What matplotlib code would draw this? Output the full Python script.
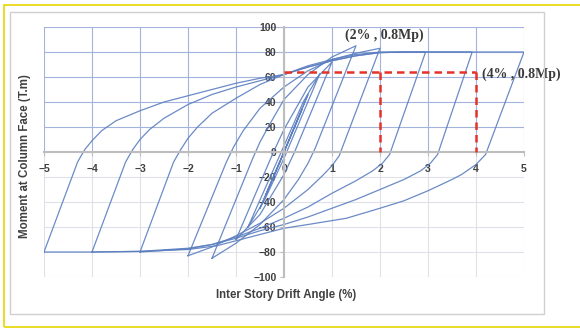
import matplotlib
matplotlib.use("Agg")
import matplotlib.pyplot as plt
from matplotlib.patches import Rectangle

plt.rcParams['font.family'] = ['Liberation Sans', 'DejaVu Sans']

# hysteresis loops, drift (%) vs moment (T.m)
loop5_x = [-5.0, -4.3, -4.15, -4.0, -3.8, -3.5, -3.0, -2.5, -2.0, -1.5, -1.0, -0.5, 0.0, 0.5, 1.0, 1.5, 2.0, 2.5, 5.0,
           4.2, 4.0, 3.7, 3.5, 3.0, 2.5, 2.0, 1.3, 0.5, 0.0, -0.7, -1.4, -2.0, -3.0, -4.0, -5.0]
loop5_m = [-80, -8, 2, 9, 17, 25, 33, 40, 45, 50, 55, 59, 62, 68, 73, 77, 79.5, 80, 80,
           -2, -10, -18, -22, -31, -39, -45, -53, -58, -61, -68, -75, -78, -79.5, -80, -80]

loop4_x = [-4.0, -3.3, -3.15, -3.0, -2.8, -2.5, -2.0, -1.5, -1.0, -0.5, 0.0, 0.5, 1.0, 1.5, 2.0, 2.5, 3.92,
           3.2, 3.05, 2.85, 2.5, 2.0, 1.5, 1.0, 0.5, 0.0, -0.5, -1.0, -1.5, -2.0, -3.0, -4.0]
loop4_m = [-80, -8, 2, 10, 18, 27, 38, 46, 52, 57, 62, 68, 73, 77, 79.5, 80, 80,
           -2, -9, -15, -22, -30, -38, -45, -52, -58, -63, -69, -74, -77, -79.5, -80]

loop3_x = [-3.0, -2.3, -2.15, -2.0, -1.8, -1.5, -1.0, -0.5, 0.0, 0.5, 1.0, 1.5, 2.0, 2.95,
           2.2, 2.05, 1.85, 1.5, 1.0, 0.5, 0.0, -0.5, -1.0, -1.5, -2.0, -3.0]
loop3_m = [-80, -8, 2, 11, 20, 31, 43, 54, 62, 69, 74, 78, 80, 80,
           -2, -9, -15, -23, -33, -44, -53, -61, -68, -74, -77.5, -80]

loop2_x = [-2.0, -1.2, -1.05, -0.85, -0.5, 0.0, 0.5, 1.0, 1.5, 2.0,
           1.15, 1.0, 0.8, 0.5, 0.0, -0.5, -1.0, -1.5, -2.0]
loop2_m = [-83, -8, 4, 17, 35, 52, 65, 74, 79, 83,
           -3, -11, -19, -30, -45, -57, -67, -76, -83]

loop15_x = [-1.5, -0.65, -0.5, -0.3, 0.0, 0.5, 1.0, 1.5,
            0.65, 0.5, 0.3, 0.0, -0.5, -1.0, -1.5]
loop15_m = [-85, -5, 8, 22, 42, 62, 76, 85,
            3, -9, -22, -38, -58, -73, -85]

loop1_x = [-1.0, -0.22, 0.0, 0.5, 1.0, 0.22, 0.0, -0.5, -1.0]
loop1_m = [-70, 0, 18, 52, 72, 0, -18, -50, -70]

loop075_x = [-0.75, 0.0, 0.4, 0.75, 0.0, -0.4, -0.75]
loop075_m = [-60, 5, 40, 63, -5, -38, -60]

loop05_x = [-0.5, 0.02, 0.5, -0.02, -0.5]
loop05_m = [-45, 2, 46, -2, -45]

loop0375_x = [-0.375, 0.375, -0.375]
loop0375_m = [-34, 34, -34]

# 0.8 Mp reference points
Mp = 80
ref_drift = [2, 4]
ref_labels = ["(2% , 0.8Mp)", "(4% , 0.8Mp)"]

x_ticks = list(range(-5, 6))
y_ticks = list(range(-100, 101, 20))

fig = plt.figure(figsize=(5.8, 3.29), dpi=100)
fig.patches.append(Rectangle((4/580, 2/329), 580/580, 322/329, transform=fig.transFigure,
                             fill=False, edgecolor='#e6d600', lw=1.2))
fig.patches.append(Rectangle((10/580, 15/329), 534/580, 302/329, transform=fig.transFigure,
                             fill=False, edgecolor='#d0d0d0', lw=1.0))

ax = fig.add_axes([44/580, 52/329, 480/580, 250/329])

# grid: blue above zero, light grey below
for x in x_ticks:
    ax.plot([x, x], [0, 100], color='#a3b3dc', lw=0.8, zorder=0)
    ax.plot([x, x], [-100, 0], color='#dfe1e8', lw=0.8, zorder=0)
for y in y_ticks:
    ax.plot([-5, 5], [y, y], color='#a3b3dc' if y > 0 else '#dfe1e8', lw=0.8, zorder=0)

loops = [(loop5_x, loop5_m), (loop4_x, loop4_m), (loop3_x, loop3_m), (loop2_x, loop2_m),
         (loop15_x, loop15_m), (loop1_x, loop1_m), (loop075_x, loop075_m),
         (loop05_x, loop05_m), (loop0375_x, loop0375_m)]
for lx, lm in loops:
    ax.plot(lx, lm, color='#5b7ec0', lw=0.9, alpha=0.9, zorder=2)

m08 = 0.8 * Mp
red = '#e5332a'
ax.plot([0, max(ref_drift)], [m08, m08], color=red, lw=1.8, dashes=(3, 2), zorder=3)
for d in ref_drift:
    ax.plot([d, d], [m08, 0], color=red, lw=1.8, dashes=(3, 2), zorder=3)

ax.text(2.1, 93, ref_labels[0], family='Liberation Serif', fontweight='bold', fontsize=10,
        color='#3a3a3a', ha='center', va='center')
ax.text(4.12, 62, ref_labels[1], family='Liberation Serif', fontweight='bold', fontsize=10,
        color='#3a3a3a', ha='left', va='center', clip_on=False)

ax.set_xlim(-5, 5)
ax.set_ylim(-100, 100)
ax.set_xticks(x_ticks)
ax.set_yticks(y_ticks)
ax.spines['left'].set_position(('data', 0))
ax.spines['bottom'].set_position(('data', 0))
for s in ['top', 'right']:
    ax.spines[s].set_visible(False)
for s in ['left', 'bottom']:
    ax.spines[s].set_color('#bdbdbd')
    ax.spines[s].set_linewidth(1.5)
ax.tick_params(axis='x', length=3, pad=5.5, color='#bdbdbd', labelsize=7.5, labelcolor='#404040')
ax.tick_params(axis='y', length=3, pad=2.5, color='#bdbdbd', labelsize=7.5, labelcolor='#404040')
for lab in ax.get_xticklabels() + ax.get_yticklabels():
    lab.set_fontweight('bold')
ax.set_facecolor('none')

fig.text(286/580, 1 - 295/329, "Inter Story Drift Angle (%)", ha='center', va='center',
         fontsize=8.3, fontweight='bold', color='#404040')
fig.text(25/580, 1 - 156/329, "Moment at Column Face (T.m)", ha='center', va='center',
         rotation=90, fontsize=8.3, fontweight='bold', color='#404040')

fig.savefig('out.png', dpi=100)
